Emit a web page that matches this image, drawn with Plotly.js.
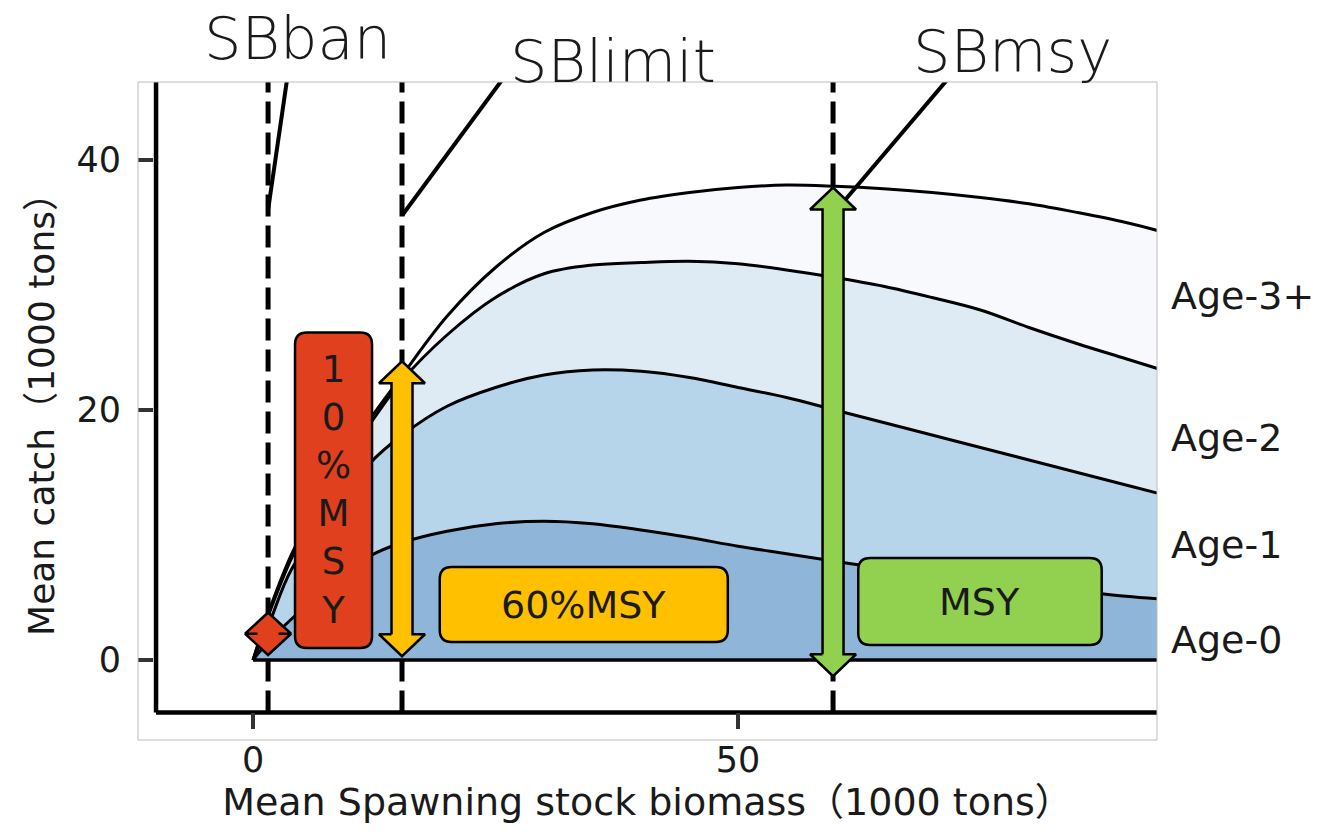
<!DOCTYPE html>
<html>
<head>
<meta charset="utf-8">
<script src="https://cdn.plot.ly/plotly-3.0.1.min.js"></script>
<style>html,body{margin:0;padding:0;background:#fff;}#chart{width:1324px;height:836px;}</style>
</head>
<body>
<div id="chart"></div>
<script>
// ---- data ----
const biomass = [0, 1.6, 4, 8, 12, 15.4, 20, 25, 30, 35, 40, 45, 50, 55, 60, 65, 70, 75, 80, 85, 90, 95];
const catchAge0 = [0, 1.5, 3.3, 6.0, 8.3, 9.4, 10.3, 10.9, 11.1, 10.9, 10.4, 9.8, 9.1, 8.5, 7.9, 7.3, 6.8, 6.3, 5.9, 5.5, 5.1, 4.8];
const catchAge1 = [0, 1.3, 4.0, 5.5, 7.4, 8.6, 10.0, 10.9, 11.7, 12.3, 12.7, 12.8, 12.7, 12.5, 12.1, 11.7, 11.2, 10.7, 10.1, 9.5, 8.9, 8.2];
const catchAge2 = [0, 0.8, 0.9, 2.5, 3.1, 4.4, 5.7, 7.2, 8.1, 8.4, 8.7, 9.3, 9.9, 10.2, 10.6, 10.9, 11.0, 11.0, 10.6, 10.3, 10.1, 9.9];
const catchAge3 = [0, 0.2, 0.3, 0.4, 0.4, 0.4, 1.5, 2.4, 3.3, 4.2, 5.0, 5.5, 6.1, 6.8, 7.3, 7.8, 8.4, 9.0, 9.9, 10.5, 10.9, 11.1];
const ageNames = ["Age-0", "Age-1", "Age-2", "Age-3+"];
const ageLabelY = [1.6, 9.2, 17.8, 29.1];

const refNames = ["SBban", "SBlimit", "SBmsy"];
const refX = [1.55, 15.36, 59.8];
const refArrowLow = [0.4, 0.3, -1.3];
const refArrowHigh = [3.8, 23.9, 37.8];
const refLabelText = ["10%MSY", "60%MSY", "MSY"];
const leaderStart = [[1.55, 36.0], [15.4, 35.6], [60.6, 36.4]];
const leaderEnd = [[4.1, 49.6], [27.0, 47.8], [73.3, 48.0]];

const boxX0 = [4.33, 19.25, 62.4];
const boxX1 = [12.27, 48.95, 87.5];
const boxY0 = [0.96, 1.44, 1.2];
const boxY1 = [26.2, 7.44, 8.16];

const xTicks = [0, 50];
const yTicks = [0, 20, 40];
const frameX = -10;
const frameY = -4.2;

// ---- layout geometry ----
const W = 1324, H = 836;
const mL = 138, mR = 167, mT = 82, mB = 107;
const plotW = W - mL - mR, plotH = H - mT - mB;
const xRange = [-11.86, 93.2];
const yRange = [-5.52, 46.24];
const kx = (xRange[1] - xRange[0]) / plotW;
const ky = (yRange[1] - yRange[0]) / plotH;

const fillColors = ["#8fb6d9", "#b6d5ea", "#dfebf4", "#f7f9fd"];
const refColors = ["#e0401e", "#ffc000", "#92d050"];
const FONT = "DejaVu Sans, 'Noto Sans CJK JP', sans-serif";
const TXT = "#1a1a1a";

const traces = [];
const ages = [catchAge0, catchAge1, catchAge2, catchAge3];
ages.forEach((vals, i) => {
  traces.push({
    type: "scatter", mode: "lines", x: biomass, y: vals, name: ageNames[i],
    stackgroup: "catch", fillcolor: fillColors[i],
    line: {color: "#000", width: 3, shape: "spline", smoothing: 1.0},
    hoverinfo: "skip", showlegend: false
  });
});
// baseline under the stack
traces.push({type: "scatter", mode: "lines", x: [biomass[0], biomass[biomass.length - 1]], y: [0, 0],
  line: {color: "#000", width: 3.5}, hoverinfo: "skip", showlegend: false});
// frame lines
traces.push({type: "scatter", mode: "lines", x: [frameX, frameX], y: [frameY, 60],
  line: {color: "#000", width: 4.5}, hoverinfo: "skip", showlegend: false});
traces.push({type: "scatter", mode: "lines", x: [frameX, 100], y: [frameY, frameY],
  line: {color: "#000", width: 4.5}, hoverinfo: "skip", showlegend: false});
// dashed reference lines
refX.forEach((x) => {
  traces.push({type: "scatter", mode: "lines", x: [x, x], y: [frameY, 60],
    line: {color: "#000", width: 5, dash: "22px,9px"}, hoverinfo: "skip", showlegend: false});
});
// leader lines
leaderStart.forEach((s, i) => {
  traces.push({type: "scatter", mode: "lines", x: [s[0], leaderEnd[i][0]], y: [s[1], leaderEnd[i][1]],
    line: {color: "#000", width: 4}, hoverinfo: "skip", showlegend: false});
});
// double arrows
function arrowPoly(x, y0, y1) {
  const hw = 23 * kx, sw = 10.5 * kx;
  let hl = 22 * ky;
  if (2 * hl > (y1 - y0)) hl = (y1 - y0) / 2;
  return {
    x: [x - sw, x - hw, x, x + hw, x + sw, x + sw, x + hw, x, x - hw, x - sw, x - sw],
    y: [y0 + hl, y0 + hl, y0, y0 + hl, y0 + hl, y1 - hl, y1 - hl, y1, y1 - hl, y1 - hl, y0 + hl]
  };
}
refX.forEach((x, i) => {
  const p = arrowPoly(x, refArrowLow[i], refArrowHigh[i]);
  traces.push({type: "scatter", mode: "lines", x: p.x, y: p.y, fill: "toself",
    fillcolor: refColors[i], line: {color: "#000", width: 2.5}, hoverinfo: "skip", showlegend: false});
});

// rounded boxes
function roundRect(x0, x1, y0, y1, r) {
  const rx = r * kx, ry = r * ky;
  return `M ${x0 + rx},${y0} L ${x1 - rx},${y0} Q ${x1},${y0} ${x1},${y0 + ry} L ${x1},${y1 - ry} Q ${x1},${y1} ${x1 - rx},${y1} L ${x0 + rx},${y1} Q ${x0},${y1} ${x0},${y1 - ry} L ${x0},${y0 + ry} Q ${x0},${y0} ${x0 + rx},${y0} Z`;
}
const shapes = [];
boxX0.forEach((x0, i) => {
  shapes.push({type: "path", xref: "x", yref: "y", path: roundRect(x0, boxX1[i], boxY0[i], boxY1[i], 12),
    fillcolor: refColors[i], line: {color: "#000", width: 2.5}, layer: "above"});
});
shapes.push({type: "rect", xref: "paper", yref: "paper", x0: 0, x1: 1, y0: -11 / plotH, y1: 1,
  line: {color: "#bdbdbd", width: 1}, fillcolor: "rgba(0,0,0,0)", layer: "above"});

const annotations = [];
// box labels
boxX0.forEach((x0, i) => {
  const txt = i === 0 ? refLabelText[i].split("").join("<br>") : refLabelText[i];
  annotations.push({xref: "x", yref: "y", x: (x0 + boxX1[i]) / 2, y: (boxY0[i] + boxY1[i]) / 2,
    text: txt, showarrow: false, font: {family: FONT, size: i === 0 ? 37 : 38, color: TXT},
    xanchor: "center", yanchor: "middle"});
});
// reference point names above the panel
const refLabelPos = [[0.157, 1.068], [0.466, 1.031], [0.858, 1.047]];
refNames.forEach((n, i) => {
  annotations.push({xref: "paper", yref: "paper", x: refLabelPos[i][0], y: refLabelPos[i][1], text: n,
    showarrow: false, xanchor: "center", yanchor: "middle",
    font: {family: FONT, size: 59, color: TXT, weight: 300}});
});
// age labels at right
ageNames.forEach((n, i) => {
  annotations.push({xref: "paper", yref: "y", x: 1.012, y: ageLabelY[i], text: n, showarrow: false,
    xanchor: "left", yanchor: "middle", font: {family: FONT, size: 38, color: TXT}});
});

const layout = {
  width: W, height: H,
  margin: {l: mL, r: mR, t: mT, b: mB, pad: 0},
  paper_bgcolor: "#fff", plot_bgcolor: "#fff",
  showlegend: false,
  font: {family: FONT, size: 35, color: TXT},
  xaxis: {
    range: xRange, tickvals: xTicks, ticks: "inside", ticklen: 16, tickwidth: 4, tickcolor: "#333",
    showgrid: false, zeroline: false, showline: false, ticklabelstandoff: 7,
    tickfont: {family: FONT, size: 35, color: TXT},
    title: {text: "Mean Spawning stock biomass（1000 tons）", font: {family: FONT, size: 38, color: TXT}, standoff: 6}
  },
  yaxis: {
    range: yRange, tickvals: yTicks, ticks: "inside", ticklen: 15, tickwidth: 4, tickcolor: "#333",
    showgrid: false, zeroline: false, showline: false, ticklabelstandoff: 16,
    tickfont: {family: FONT, size: 35, color: TXT},
    title: {text: "Mean catch（1000 tons）", font: {family: FONT, size: 36, color: TXT}, standoff: 10}
  },
  shapes: shapes,
  annotations: annotations
};

Plotly.newPlot("chart", traces, layout, {displayModeBar: false, staticPlot: true});
</script>
</body>
</html>
